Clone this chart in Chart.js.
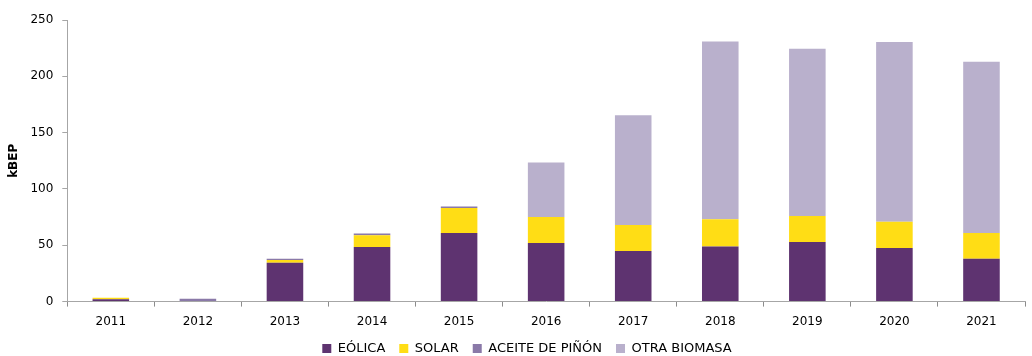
<!DOCTYPE html>
<html>
<head>
<meta charset="utf-8">
<script src="https://cdn.jsdelivr.net/npm/chart.js@4/dist/chart.umd.min.js"></script>
<style>
  html, body { margin: 0; padding: 0; background: #fff; }
  #wrap { width: 1032px; height: 356px; }
</style>
</head>
<body>
<div id="wrap"><canvas id="chart"></canvas></div>
<script>
// kBEP por año y fuente
const years = ['2011', '2012', '2013', '2014', '2015', '2016', '2017', '2018', '2019', '2020', '2021'];
const eolica = [2, 0, 34.5, 48.5, 61, 52, 45, 49, 53, 47.5, 38];
const solar = [1.5, 0, 2.5, 10.5, 22, 23, 23, 24, 23, 23.5, 23];
const aceitePinon = [0, 2.5, 1, 1.5, 1.5, 0, 0, 0, 0, 0, 0];
const otraBiomasa = [0, 0, 0, 0, 0, 48.5, 97.5, 158, 148.5, 159.5, 152];
const yTicks = [0, 50, 100, 150, 200, 250];

const font = { family: 'DejaVu Sans', size: 12 };

function series(label, data, color) {
    return {
        label: label,
        data: data,
        backgroundColor: color,
        borderWidth: 0,
        categoryPercentage: 1,
        barPercentage: 0.42
    };
}

// centre the legend under the plot area instead of the whole canvas
const legendShift = {
    id: 'legendShift',
    afterLayout(chart) {
        chart.legend.left += 14;
        chart.legend.right += 14;
    }
};

new Chart(document.getElementById('chart'), {
    type: 'bar',
    data: {
        labels: years,
        datasets: [
            series('EÓLICA', eolica, '#5e3370'),
            series('SOLAR', solar, '#ffdd15'),
            series('ACEITE DE PIÑÓN', aceitePinon, '#8a79a8'),
            series('OTRA BIOMASA', otraBiomasa, '#b9b0cc')
        ]
    },
    plugins: [legendShift],
    options: {
        responsive: true,
        maintainAspectRatio: false,
        animation: false,
        // legend sits lower than its own padding allows, so bottom is negative
        layout: { padding: { top: 20, right: 7, left: 1, bottom: -9 } },
        plugins: {
            tooltip: { enabled: false },
            legend: {
                position: 'bottom',
                labels: {
                    font: { family: 'DejaVu Sans', size: 13 },
                    color: '#000',
                    boxWidth: 9,
                    boxHeight: 9,
                    padding: 14
                }
            }
        },
        scales: {
            x: {
                stacked: true,
                offset: true,
                // let the legend's top padding overlap the space under the labels
                afterFit: (scale) => { scale.height -= 9; },
                border: { color: '#a6a6a6', width: 1 },
                grid: {
                    offset: true,
                    drawOnChartArea: false,
                    drawTicks: true,
                    tickLength: 5,
                    color: '#8c8c8c'
                },
                ticks: { font: font, color: '#000', padding: 8 }
            },
            y: {
                stacked: true,
                min: 0,
                max: 250,
                afterBuildTicks: (axis) => { axis.ticks = yTicks.map(v => ({ value: v })); },
                border: { color: '#a6a6a6', width: 1 },
                grid: {
                    drawOnChartArea: false,
                    drawTicks: true,
                    tickLength: 5,
                    color: '#a6a6a6'
                },
                ticks: { font: font, color: '#000', padding: 9 },
                title: {
                    display: true,
                    text: 'kBEP',
                    font: { family: 'DejaVu Sans', size: 12, weight: 'bold' },
                    color: '#000',
                    padding: { top: 6, bottom: 0 }
                }
            }
        }
    }
});
</script>
</body>
</html>
